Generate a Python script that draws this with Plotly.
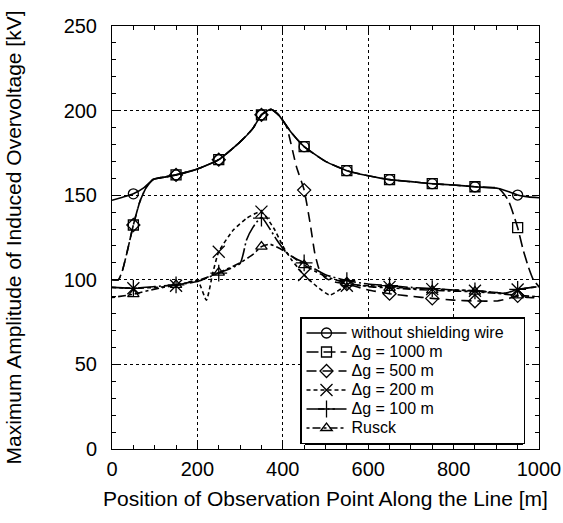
import plotly.graph_objects as go

# ---------------- data ----------------
mk_x = [50, 150, 250, 350, 450, 550, 650, 750, 850, 950]

# without shielding wire
ws_x = [0, 25, 50, 75, 97, 125, 150, 200, 250, 300, 330, 350, 372, 390, 420, 450, 500, 550, 600, 650, 700, 750, 800, 850, 905, 930, 950, 975, 1000]
ws_y = [147, 148.8, 150.8, 154.5, 159.4, 160.8, 162, 165.5, 171, 181.5, 189.5, 197.5, 200.8, 197.5, 187, 178.7, 170, 164.5, 161.5, 159.2, 158, 156.8, 156, 155, 154, 152, 150.1, 149, 148.5]
ws_m = [150.8, 162, 171, 197.5, 178.7, 164.5, 159.2, 156.8, 155, 150.1]

# dg = 1000 m
g1000_x = [0, 15, 25, 35, 50, 65, 80, 97, 125, 150, 200, 250, 300, 330, 350, 372, 390, 420, 450, 500, 550, 600, 650, 700, 750, 800, 850, 905, 928, 950, 963, 975, 987, 1000]
g1000_y = [100, 100, 106, 116, 132.4, 146, 154.5, 159.4, 160.8, 162, 165.5, 171, 181.5, 189.5, 197.5, 200.8, 197.5, 187, 178.7, 170, 164.5, 161.5, 159.2, 158, 156.8, 156, 155, 154, 147, 130.8, 117.6, 107.7, 99.9, 96]
g1000_m = [132.4, 162, 171, 197.5, 178.7, 164.5, 159.2, 156.8, 155, 130.8]

# dg = 500 m
g500_x = [0, 15, 25, 35, 50, 65, 80, 97, 125, 150, 200, 250, 300, 330, 350, 372, 390, 408, 432, 450, 464, 475, 487, 500, 518, 550, 600, 650, 700, 750, 800, 850, 900, 930, 950, 975, 1000]
g500_y = [100, 100, 106, 116, 132.4, 146, 154.5, 159.4, 160.8, 162, 165.5, 171, 181.5, 189.5, 197.5, 200.8, 197.5, 191, 166.8, 153, 133.4, 115.6, 104.8, 101, 98.9, 97.5, 94, 91.8, 90.3, 89, 88, 87.5, 87.5, 89, 90.5, 89.5, 89.5]
g500_m = [132.4, 162, 171, 197.5, 153, 97.5, 91.8, 89, 87.3, 90.5]

# dg = 200 m
g200_x = [0, 50, 100, 150, 200, 221, 236, 250, 284, 315, 349, 380, 400, 420, 450, 480, 510, 550, 600, 650, 700, 750, 800, 850, 900, 920, 950, 1000]
g200_y = [95.5, 95, 95.5, 96.5, 99.5, 88, 104, 116.6, 129.4, 136.3, 140.3, 130, 120, 112, 102.8, 96, 91, 96.5, 96.5, 95.8, 95, 94.5, 94, 93.5, 92.5, 92, 94.3, 96]
g200_m = [95, 96.5, 116.6, 140.3, 102.8, 96.5, 95.8, 94.5, 93.5, 94.3]

# dg = 100 m
g100_x = [0, 50, 100, 150, 200, 250, 300, 315, 330, 350, 370, 386, 410, 450, 500, 550, 600, 650, 700, 750, 800, 850, 900, 920, 950, 1000]
g100_y = [95.5, 95, 96, 97, 99, 104, 109.7, 123.5, 131, 137, 130, 123.5, 115.6, 110, 103, 99.5, 97.5, 96.5, 95.5, 94.8, 94, 93.5, 92.5, 92, 94.3, 96]
g100_m = [95, 97, 104, 136.5, 110, 99.5, 96.5, 94.8, 93.5, 94.3]

# Rusck
ru_x = [0, 50, 100, 150, 200, 250, 300, 330, 350, 370, 400, 450, 500, 550, 600, 650, 700, 750, 800, 850, 900, 950, 1000]
ru_y = [89.5, 91.5, 94.5, 97, 99.5, 104.2, 110, 115, 119.6, 121, 117.5, 108.7, 102, 98, 96, 95.2, 94.5, 93.8, 93.3, 93, 92, 90.8, 90]
ru_m = [91.5, 97, 104.2, 119.6, 108.7, 98, 95.2, 93.8, 93, 90.8]

names = ["without shielding wire", "\u0394g = 1000 m", "\u0394g = 500 m",
         "\u0394g = 200 m", "\u0394g = 100 m", "Rusck"]

# ---------------- styles ----------------
series = [
    (ws_x, ws_y, ws_m, "solid", "circle-open", 10),
    (g1000_x, g1000_y, g1000_m, "12px,5px", "square-open", 10),
    (g500_x, g500_y, g500_m, "10px,6px", "diamond-open", 10),
    (g200_x, g200_y, g200_m, "4px,3px", "x-thin-open", 12),
    (g100_x, g100_y, g100_m, "18px,3px,2px,3px", "cross-thin-open", 12),
    (ru_x, ru_y, ru_m, "3px,3px,8px,3px", "triangle-up-open", 10),
]

fig = go.Figure()
for i, ((xs, ys, ms, dash, sym, sz), nm) in enumerate(zip(series, names)):
    fig.add_trace(go.Scatter(x=xs, y=ys, mode="lines", showlegend=False,
                             line=dict(color="black", width=1.6, dash=dash, shape="spline", smoothing=0.5),
                             hoverinfo="skip"))
    fig.add_trace(go.Scatter(x=mk_x, y=ms, mode="markers", showlegend=False,
                             marker=dict(symbol=sym, size=sz, color="black",
                                         line=dict(color="black", width=1.3))))
    label = nm + ("\u00a0\u00a0\u00a0" if i == 0 else "")
    fig.add_trace(go.Scatter(x=[None], y=[None], mode="lines+markers",
                             name='<span style="font-size:16px">' + label + '</span>',
                             line=dict(color="black", width=1.6, dash=dash),
                             marker=dict(symbol=sym, size=sz, color="black",
                                         line=dict(color="black", width=1.3))))

font = "Liberation Sans, Arial, sans-serif"
axis_common = dict(
    showline=True, linecolor="black", linewidth=1, mirror="ticks",
    ticks="inside", ticklen=6, tickcolor="black", tickwidth=1,
    showgrid=True, gridcolor="black", gridwidth=1, griddash="dot",
    zeroline=False, tickfont=dict(family=font, size=20, color="black"),
    automargin=False,
)

fig.update_xaxes(range=[0, 1000], dtick=200, tick0=0,
                 minor=dict(dtick=50, ticks="inside", ticklen=4, tickcolor="black", showgrid=False),
                 title=dict(text="Position of Observation Point Along the Line [m]",
                            font=dict(family=font, size=21, color="black"), standoff=12),
                 ticklabelstandoff=2,
                 **axis_common)
fig.update_yaxes(range=[0, 250], dtick=50, tick0=0,
                 minor=dict(dtick=10, ticks="inside", ticklen=4, tickcolor="black", showgrid=False),
                 title=dict(text="Maximum Amplitude of Induced Overvoltage [kV]",
                            font=dict(family=font, size=21, color="black"), standoff=36),
                 ticklabelstandoff=10,
                 **axis_common)

# legend shadow (offset box behind the legend)
fig.add_shape(type="rect", xref="paper", yref="paper",
              x0=0.452, x1=0.9625, y0=0.0095, y1=0.300,
              fillcolor="black", line=dict(width=0), layer="above")

fig.update_layout(
    width=563, height=523,
    margin=dict(l=112, r=24, t=26, b=74),
    paper_bgcolor="white", plot_bgcolor="white",
    font=dict(family=font, color="black"),
    legend=dict(x=0.4403, y=0.312, xanchor="left", yanchor="top",
                bgcolor="white", bordercolor="black", borderwidth=1.5,
                font=dict(family=font, size=12, color="black"),
                itemwidth=40, tracegroupgap=0),
)

fig.write_html("out.html")
